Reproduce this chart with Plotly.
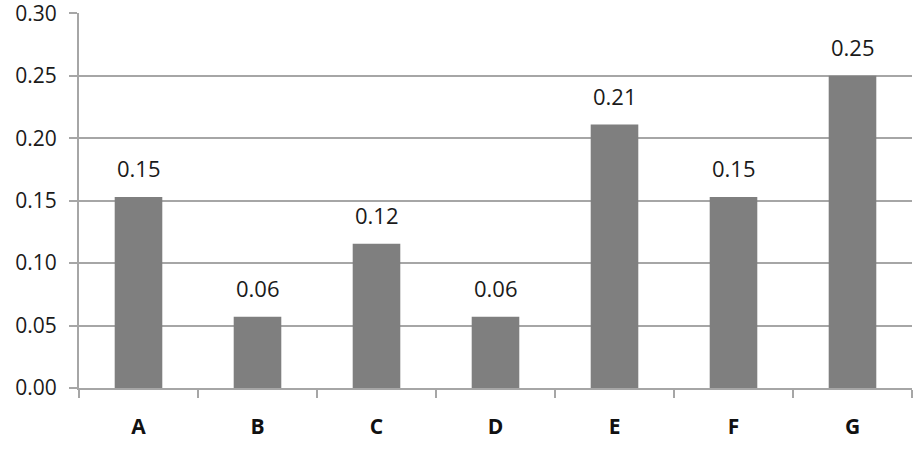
import plotly.graph_objects as go

categories = ["A", "B", "C", "D", "E", "F", "G"]
values = [0.153, 0.057, 0.1155, 0.057, 0.211, 0.153, 0.25]
y_ticks = [0.00, 0.05, 0.10, 0.15, 0.20, 0.25, 0.30]

font_family = "Open Sans, Liberation Sans, sans-serif"
grid_col = "#a6a6a6"

fig = go.Figure(go.Bar(
    x=categories, y=values,
    marker=dict(color="#7f7f7f", line=dict(width=0)),
    hoverinfo="x+y",
))

for c, v in zip(categories, values):
    fig.add_annotation(
        x=c, y=v, text=f"{v:.2f}", showarrow=False,
        yanchor="bottom", yshift=12,
        font=dict(size=22, color="#1a1a1a", family=font_family),
    )

fig.update_layout(
    width=918, height=467,
    margin=dict(l=79, r=6, t=13, b=79),
    plot_bgcolor="white", paper_bgcolor="white",
    bargap=0.6, showlegend=False,
    font=dict(family=font_family, size=22, color="#1a1a1a"),
)
fig.update_xaxes(
    showline=True, linecolor=grid_col, linewidth=2,
    ticks="outside", tickson="boundaries", ticklen=8, tickcolor=grid_col, tickwidth=2,
    tickfont=dict(size=21, family=font_family, weight="bold", color="#111111"),
    ticklabelstandoff=19, automargin=False,
)
fig.update_yaxes(
    range=[0, 0.3003], tickvals=y_ticks, tickformat=".2f",
    showgrid=True, gridcolor=grid_col, gridwidth=2,
    showline=True, linecolor=grid_col, linewidth=2,
    ticks="outside", ticklen=8, tickcolor=grid_col, tickwidth=2,
    tickfont=dict(size=21, color="#1a1a1a"),
    ticklabelstandoff=8, ticklabeloverflow="allow", automargin=False,
    zeroline=False,
)
fig.write_html("out.html")
